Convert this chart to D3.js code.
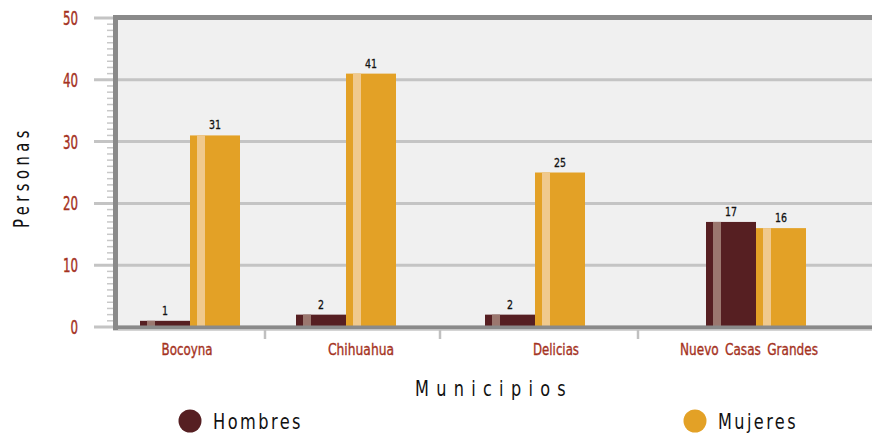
<!DOCTYPE html>
<html>
<head>
<meta charset="utf-8">
<script src="https://cdn.jsdelivr.net/npm/d3@7"></script>
<style>
  html, body { margin: 0; padding: 0; background: #fff; }
  svg text { font-family: "DejaVu Sans Condensed", "DejaVu Sans", sans-serif; }
</style>
</head>
<body>
<div id="chart"></div>
<script>
// data
const municipios = ["Bocoyna", "Chihuahua", "Delicias", "Nuevo Casas Grandes"];
const hombres = [1, 2, 2, 17];
const mujeres = [31, 41, 25, 16];
const yTicks = [0, 10, 20, 30, 40, 50];

const width = 872, height = 435;
const barW = 50;

const colors = {
    hombres: "#561f22", hombresHi: "#9b776f",
    mujeres: "#e3a126", mujeresHi: "#f0c98d",
    frame: "#8a8a8a", grid: "#c4c4c4", tickText: "#a5321e"
};

const svg = d3.select('#chart').append('svg')
    .attr('width', width)
    .attr('height', height);

// scales
const y = d3.scaleLinear().domain([0, 50]).range([327, 18]);
// group centres are not evenly spaced in the original, so a piecewise scale
const x = d3.scaleLinear().domain([0, 1, 2, 3]).range([190, 346, 535, 756]);
const xLabel = d3.scaleLinear().domain([0, 1, 2, 3]).range([187, 361, 556, 749]);
const xSep = d3.scaleLinear().domain([0.5, 1.5, 2.5]).range([265, 440, 638]);

// the original font is a narrow one, squeeze text to its width
const labelWidth = [51, 66, 46, 138];

// plot background
svg.append('rect')
    .attr('x', 116).attr('y', 18)
    .attr('width', width - 116).attr('height', y(0) - 18)
    .attr('fill', '#f0f0f0');

// gridlines
svg.append('g').selectAll('line')
    .data(yTicks)
    .join('line')
    .attr('x1', 94).attr('x2', width)
    .attr('y1', d => y(d)).attr('y2', d => y(d))
    .attr('stroke', colors.grid)
    .attr('stroke-width', 3);

// minor ticks
const minor = d3.range(0, 51).filter(d => d % 10 !== 0);
svg.append('g').selectAll('line')
    .data(minor)
    .join('line')
    .attr('x1', 107).attr('x2', 114)
    .attr('y1', d => y(d)).attr('y2', d => y(d))
    .attr('stroke', '#c8c8c8')
    .attr('stroke-width', 1.5);

// y tick labels
svg.append('g').selectAll('text')
    .data(yTicks)
    .join('text')
    .attr('x', 78)
    .attr('y', d => y(d) + 7)
    .attr('text-anchor', 'end')
    .attr('font-size', 19)
    .attr('fill', colors.tickText)
    .attr('stroke', colors.tickText)
    .attr('stroke-width', 0.4)
    .attr('textLength', d => String(d).length * 7.5)
    .attr('lengthAdjust', 'spacingAndGlyphs')
    .text(d => d);

// bars
const groups = svg.append('g').selectAll('g')
    .data(municipios)
    .join('g');

function drawSeries(vals, dx, fill, hi) {
    groups.append('rect')
        .attr('x', (d, i) => x(i) + dx)
        .attr('y', (d, i) => y(vals[i]))
        .attr('width', barW)
        .attr('height', (d, i) => y(0) - y(vals[i]))
        .attr('fill', fill);
    groups.append('rect')
        .attr('x', (d, i) => x(i) + dx + 7)
        .attr('y', (d, i) => y(vals[i]))
        .attr('width', 8)
        .attr('height', (d, i) => y(0) - y(vals[i]))
        .attr('fill', hi);
    groups.append('text')
        .attr('x', (d, i) => x(i) + dx + barW / 2)
        .attr('y', (d, i) => y(vals[i]) - 6)
        .attr('text-anchor', 'middle')
        .attr('font-size', 13)
        .attr('fill', '#111')
        .attr('stroke', '#111')
        .attr('stroke-width', 0.3)
        .attr('textLength', (d, i) => String(vals[i]).length * 6)
        .attr('lengthAdjust', 'spacingAndGlyphs')
        .text((d, i) => vals[i]);
}
drawSeries(hombres, -barW, colors.hombres, colors.hombresHi);
drawSeries(mujeres, 0, colors.mujeres, colors.mujeresHi);

// frame: left and top borders, bottom axis line
svg.append('line')
    .attr('x1', 115.5).attr('x2', 115.5).attr('y1', 15).attr('y2', 330)
    .attr('stroke', colors.frame).attr('stroke-width', 5);
svg.append('line')
    .attr('x1', 113).attr('x2', width).attr('y1', 17.5).attr('y2', 17.5)
    .attr('stroke', colors.frame).attr('stroke-width', 5);
svg.append('line')
    .attr('x1', 113).attr('x2', width).attr('y1', 327.5).attr('y2', 327.5)
    .attr('stroke', colors.frame).attr('stroke-width', 4);
svg.append('line')
    .attr('x1', 113).attr('x2', width).attr('y1', 330.5).attr('y2', 330.5)
    .attr('stroke', '#d4d4d4').attr('stroke-width', 1);

// category separators
svg.append('g').selectAll('line')
    .data([0.5, 1.5, 2.5])
    .join('line')
    .attr('x1', d => xSep(d)).attr('x2', d => xSep(d))
    .attr('y1', 330).attr('y2', 339)
    .attr('stroke', '#c0c0c0').attr('stroke-width', 2.5);

// category labels
svg.append('g').selectAll('text')
    .data(municipios)
    .join('text')
    .attr('x', (d, i) => xLabel(i) - labelWidth[i] / 2)
    .attr('y', 355)
    .attr('font-size', 16)
    .attr('word-spacing', 3)
    .attr('fill', colors.tickText)
    .attr('stroke', colors.tickText)
    .attr('stroke-width', 0.35)
    .attr('textLength', (d, i) => labelWidth[i])
    .attr('lengthAdjust', 'spacingAndGlyphs')
    .text(d => d);

// axis titles
svg.append('text')
    .attr('transform', 'translate(29,228) rotate(-90)')
    .attr('font-size', 22)
    .attr('letter-spacing', 6)
    .attr('fill', '#111')
    .attr('textLength', 102)
    .attr('lengthAdjust', 'spacingAndGlyphs')
    .text('Personas');

svg.append('text')
    .attr('x', 415).attr('y', 396)
    .attr('font-size', 22)
    .attr('letter-spacing', 9)
    .attr('fill', '#111')
    .attr('textLength', 158)
    .attr('lengthAdjust', 'spacingAndGlyphs')
    .text('Municipios');

// legend
const legend = [
    { name: "Hombres", color: colors.hombres, cx: 190, w: 90 },
    { name: "Mujeres", color: colors.mujeres, cx: 695, w: 80 }
];
const lg = svg.append('g').selectAll('g')
    .data(legend)
    .join('g');
lg.append('circle')
    .attr('cx', d => d.cx).attr('cy', 421).attr('r', 11.5)
    .attr('fill', d => d.color);
lg.append('text')
    .attr('x', d => d.cx + 23).attr('y', 429)
    .attr('font-size', 22)
    .attr('letter-spacing', 3)
    .attr('fill', '#111')
    .attr('textLength', d => d.w)
    .attr('lengthAdjust', 'spacingAndGlyphs')
    .text(d => d.name);
</script>
</body>
</html>
